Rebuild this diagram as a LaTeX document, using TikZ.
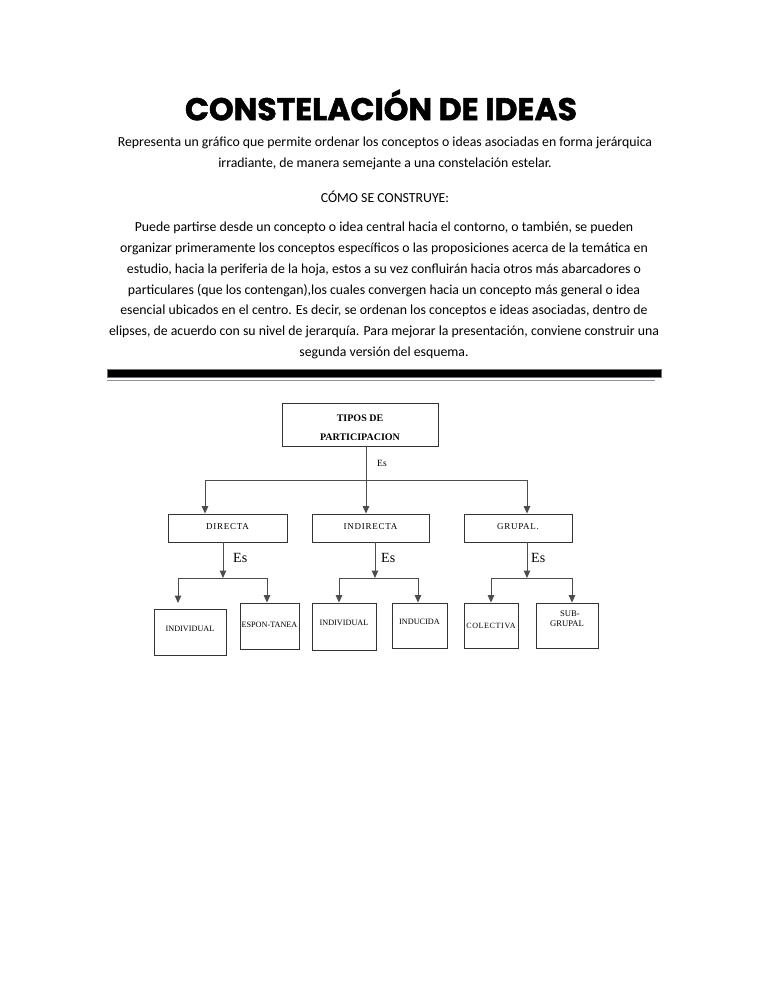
\documentclass[tikz,border=0pt]{standalone}
\usepackage{fontspec}
\setmainfont{Carlito}
\newfontfamily\serif{Liberation Serif}
\newfontfamily\serifsp{Liberation Serif}[LetterSpace=8]
\newfontfamily\titlefont{Poppins}[FakeBold=1.6]
\usetikzlibrary{arrows.meta}
\newcommand{\mvtext}[2]{\raisebox{#1}[\height][\depth]{#2}}
\begin{document}
\begin{tikzpicture}[x=1pt,y=-1pt,
  para/.style={align=center,inner sep=0pt,font=\fontsize{13.8}{20.85}\selectfont},
  bx/.style={draw=black!80,line width=0.9pt,inner sep=0pt,anchor=center},
  lvltwo/.style={bx,font=\serifsp\fontsize{9}{10}\selectfont},
  lvlthree/.style={bx,font=\serif\fontsize{8.2}{9}\selectfont},
  conn/.style={draw=black!70,line width=1pt},
  arr/.style={conn,-{Triangle[width=6.5pt,length=7.5pt]}},
  eslbl/.style={inner sep=0pt,anchor=west,font=\serif\fontsize{14}{14}\selectfont}
]
\useasboundingbox (0,0) rectangle (768,994);
\fill[white] (0,0) rectangle (768,994);

% title
\node[inner sep=0pt] (title) at (381,105) {\resizebox{392pt}{!}{\titlefont\bfseries CONSTELACIÓN DE IDEAS}};

% text
\node[para] (p1) at (385,153.5) {Representa un gráfico que permite ordenar los conceptos o ideas asociadas en forma jerárquica\\irradiante, de manera semejante a una constelación estelar.};
\node[para] (p2) at (385,196.5) {CÓMO SE CONSTRUYE:};
\node[para] (p3) at (384,290.5) {Puede partirse desde un concepto o idea central hacia el contorno, o también, se pueden\\
organizar primeramente los conceptos específicos o las proposiciones acerca de la temática en\\
estudio, hacia la periferia de la hoja, estos a su vez confluirán hacia otros más abarcadores o\\
particulares (que los contengan),los cuales convergen hacia un concepto más general o idea\\
esencial ubicados en el centro. Es decir, se ordenan los conceptos e ideas asociadas, dentro de\\
elipses, de acuerdo con su nivel de jerarquía. Para mejorar la presentación, conviene construir una\\
segunda versión del esquema.};

% separator
\fill[black] (107,369) rectangle (661,377);
\draw[black!55,line width=0.6pt] (107,369) rectangle (661,377);
\draw[draw={rgb,255:red,150;green,140;blue,185},line width=1.8pt] (107,380.5) -- (655,380.5);

% boxes
\node[bx,minimum width=156pt,minimum height=43pt,align=center,font=\serif\bfseries\fontsize{10}{19}\selectfont] (top) at (360,424.5) {\mvtext{-3pt}{TIPOS DE}\\\mvtext{-3pt}{PARTICIPACION}};
\node[lvltwo,minimum width=119pt,minimum height=28pt] (dir) at (227.5,528) {\mvtext{1pt}{DIRECTA}};
\node[lvltwo,minimum width=117pt,minimum height=28pt] (ind) at (370.5,528) {\mvtext{1pt}{INDIRECTA}};
\node[lvltwo,minimum width=108pt,minimum height=28pt] (gru) at (518,528) {\mvtext{1pt}{GRUPAL.}};

\node[lvlthree,minimum width=72pt,minimum height=46pt] (a1) at (190,632) {\mvtext{3pt}{INDIVIDUAL}};
\node[lvlthree,minimum width=59pt,minimum height=46pt] (a2) at (269.5,626) {\mvtext{1pt}{ESPON-TANEA}};
\node[lvlthree,minimum width=64pt,minimum height=47pt] (b1) at (344,626.5) {\mvtext{4pt}{INDIVIDUAL}};
\node[lvlthree,minimum width=55pt,minimum height=45pt] (b2) at (419.5,625.5) {\mvtext{4pt}{INDUCIDA}};
\node[lvlthree,minimum width=54pt,minimum height=45pt,font=\serifsp\fontsize{8}{9}\selectfont] (c1) at (491,625.5) {\mvtext{0pt}{COLECTIVA}};
\node[lvlthree,minimum width=62pt,minimum height=45pt,align=left,font=\serif\fontsize{8.6}{9.5}\selectfont] (c2) at (567,625.5) {\mvtext{7pt}{\hspace*{10pt}SUB-}\\\mvtext{7pt}{GRUPAL}};

% level 1 connectors
\coordinate (jc) at (366,480);
\coordinate (jl) at (205,480);
\coordinate (jr) at (527,480);
\draw[conn] (top.south -| jc) -- (jc);
\draw[conn] (jl) -- (jr);
\draw[arr] (jc) -- (ind.north -| jc);
\draw[arr] (jl) -- (dir.north -| jl);
\draw[arr] (jr) -- (gru.north -| jr);
\node[inner sep=0pt,anchor=west,font=\serif\fontsize{9.5}{10}\selectfont] (es0) at (377,463) {Es};

% level 2 connectors
\coordinate (da) at (223,578);
\coordinate (dl) at (178,578);
\coordinate (dr) at (267,578);
\coordinate (dle) at (178,603);
\draw[arr] (dir.south -| da) -- (da);
\draw[conn] (dl) -- (dr);
\draw[arr] (dl) -- (dle);
\draw[arr] (dr) -- (a2.north -| dr);
\node[eslbl] (es1) at (233,558) {Es};

\coordinate (ia) at (375,578);
\coordinate (il) at (339,578);
\coordinate (ir) at (418,578);
\draw[arr] (ind.south -| ia) -- (ia);
\draw[conn] (il) -- (ir);
\draw[arr] (il) -- (b1.north -| il);
\draw[arr] (ir) -- (b2.north -| ir);
\node[eslbl] (es2) at (381,558) {Es};

\coordinate (ga) at (527,578);
\coordinate (gl) at (491,578);
\coordinate (gr) at (572,578);
\draw[arr] (gru.south -| ga) -- (ga);
\draw[conn] (gl) -- (gr);
\draw[arr] (gl) -- (c1.north -| gl);
\draw[arr] (gr) -- (c2.north -| gr);
\node[eslbl] (es3) at (531,558) {Es};
\end{tikzpicture}
\end{document}
